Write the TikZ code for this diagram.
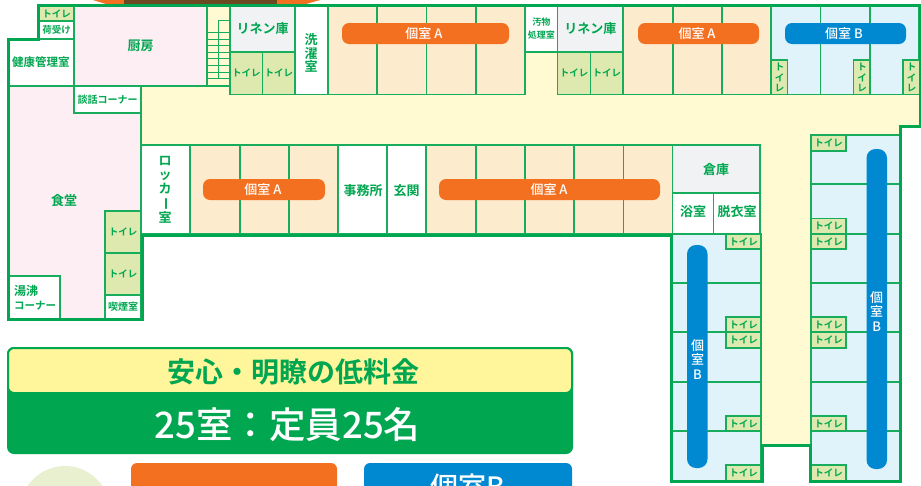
\documentclass[tikz,border=0pt]{standalone}
\usepackage{fontspec}
\setmainfont{Noto Sans CJK JP Medium}[BoldFont=Noto Sans CJK JP Bold]
\definecolor{gr}{HTML}{00A650}
\definecolor{ln}{HTML}{17AD5C}
\definecolor{cor}{HTML}{FFFAD2}
\definecolor{pk}{HTML}{FCEEF3}
\definecolor{rA}{HTML}{FDEBCD}
\definecolor{rB}{HTML}{E0F3FB}
\definecolor{wc}{HTML}{DDE9AE}
\definecolor{gy}{HTML}{F0F2F4}
\definecolor{ora}{HTML}{F47021}
\definecolor{blu}{HTML}{0088D0}
\definecolor{yel}{HTML}{FFF59B}
\definecolor{pale}{HTML}{E8F0D0}
\definecolor{roofb}{HTML}{6B4A22}
\newcommand{\sz}[2]{\bfseries\fontsize{#1}{#2}\selectfont}
\tikzset{
 lab/.style={text=gr,inner sep=0pt,align=center,font=\sz{13}{13.8}},
 wclab/.style={text=gr,inner sep=0pt,align=center,font=\sz{9.5}{10.5}},
 pilllab/.style={text=white,inner sep=0pt,align=center,font=\fontsize{13}{14.5}\selectfont},
 wall/.style={draw=ln,line width=1.2pt},
 thick wall/.style={draw=gr,line width=3pt,line join=miter},
 pill/.style={rounded corners=7pt,draw=none},
}
% \rmb{name}{x1}{y1}{x2}{y2}{fill}
\newcommand{\rmb}[6]{\path[wall,fill=#6] (#2,#3) rectangle (#4,#5) coordinate[pos=.5] (#1);}
\newcommand{\wch}[4]{\path[wall,fill=wc] (#2,#3) rectangle (#2+35,#3+#4) node[midway,wclab] (#1) {トイレ};}
\begin{document}
\begin{tikzpicture}[x=1pt,y=-1pt]
\useasboundingbox (0,0) rectangle (921,485);
\fill[white] (0,0) rectangle (921,485);
% roof
\fill[ora] (93,0) -- (125,0) -- (125,4) -- (106,4) -- cycle;
\fill[ora] (277,0) -- (320,0) -- (306,4) -- (277,4) -- cycle;
\fill[roofb] (124,0) rectangle (277,4);
% corridor
\fill[cor] (38,5) -- (920,5) -- (920,126) -- (900,126) -- (900,445) -- (671,445) -- (671,235) -- (142,235) -- (142,145) -- (8,145) -- (8,39) -- (38,39) -- cycle;
% upper-left
\rmb{a1}{39}{6}{74}{21}{wc}
\node[wclab] (wc1) at (a1) {トイレ};
\rmb{a2}{39}{21}{74}{39}{white}
\node[wclab] (niuke) at (a2) {荷受け};
% dining
\path[wall,fill=pk] (8,86) rectangle (141,319);
\rmb{a3}{74}{6}{207}{86}{pk}
\node[lab] (kitchen) at (a3) {厨房};
\rmb{a4}{8}{39}{74}{86}{white}
\node[lab,font=\sz{11.5}{12}] (kenko) at (a4) {健康管理室};
\rmb{a5}{74}{86}{141}{113}{white}
\node[lab,font=\sz{10}{12}] (danwa) at (a5) {談話コーナー};
\node[lab] (shokudo) at (64,201) {食堂};
\rmb{a6}{105}{211}{141}{253}{wc}
\node[wclab] (wc2) at (a6) {トイレ};
\rmb{a7}{105}{253}{141}{295}{wc}
\node[wclab] (wc3) at (a7) {トイレ};
\rmb{a8}{105}{295}{141}{319}{white}
\node[lab,font=\sz{10}{12}] (kitsuen) at (a8) {喫煙室};
\path[wall,fill=white] (8,276) rectangle (60,319);
\node[lab,align=left,font=\sz{12}{14}] (yuwakashi) at (35,297.5) {湯沸\\[-.5pt]{\sz{10.5}{12}コーナー}};
% stairs
\path[wall,draw=ln] (207,6) rectangle (230,86);
\foreach \yy in {32,39,45,52,58,65,72,78} \draw[wall,line width=1pt] (207,\yy) -- (230,\yy);
\draw[wall,line width=1pt] (218,78) -- (218,20) -- (230,20);
% top row
\rmb{b1}{230}{6}{295}{52}{gy}
\node[lab] (linen1) at (b1) {リネン庫};
\rmb{b2}{230}{52}{262.5}{94.5}{wc}
\node[wclab] (wc4) at (b2) {トイレ};
\rmb{b3}{262.5}{52}{295}{94.5}{wc}
\node[wclab] (wc5) at (b3) {トイレ};
\rmb{b4}{295}{6}{328}{94.5}{white}
\node[lab] (sentaku) at (311,53) {洗\\濯\\室};
\foreach \xa/\xb in {328/377,377/426.5,426.5/476,476/525,623/673,673/722,722/771} \path[wall,fill=rA] (\xa,6) rectangle (\xb,94.5);
\rmb{b5}{525}{6}{557.5}{52}{white}
\node[lab,font=\sz{9}{13}] (soiled) at (b5) {汚物\\処理室};
\rmb{b6}{557.5}{6}{623}{52}{gy}
\node[lab] (linen2) at (b6) {リネン庫};
\rmb{b7}{557.5}{52}{590.5}{94.5}{wc}
\node[wclab] (wc6) at (b7) {トイレ};
\rmb{b8}{590.5}{52}{623}{94.5}{wc}
\node[wclab] (wc7) at (b8) {トイレ};
\foreach \xa/\xb in {771/820.5,820.5/870,870/919} \path[wall,fill=rB] (\xa,6) rectangle (\xb,94.5);
\foreach \xa/\nm in {771/c1,853.5/c2,903/c3} {
 \path[wall,fill=wc] (\xa,60) rectangle (\xa+16.5,94.5);
 \node[wclab,font=\sz{9.5}{10.5}] (\nm) at (\xa+8.5,77.5) {ト\\イ\\レ};
}
\path[fill=ora,pill] (342,23) rectangle (509,44);
\node[pilllab] (pA1) at (424,34) {個室 A};
\path[fill=ora,pill] (638,23) rectangle (759,44);
\node[pilllab] (pA2) at (697,34) {個室 A};
\path[fill=blu,pill] (785,23) rectangle (906,44);
\node[pilllab] (pB1) at (844,34) {個室 B};
% second row
\rmb{d1}{141}{145}{190}{234}{white}
\node[lab] (locker) at (165,190) {ロ\\ッ\\カ\\\rotatebox[origin=c]{-90}{ー}\\室};
\foreach \xa/\xb in {190/240,240/289,289/338,426/476,476/525,525/574,574/623.5,623.5/672.5} \path[wall,fill=rA] (\xa,145) rectangle (\xb,234);
\rmb{d2}{338}{145}{387}{234}{white}
\node[lab] (office) at (363,190.5) {事務所};
\rmb{d3}{387}{145}{426}{234}{white}
\node[lab] (entrance) at (406.5,190.5) {玄関};
\path[fill=ora,pill] (203,179) rectangle (325,200);
\node[pilllab] (pA3) at (263,190) {個室 A};
\path[fill=ora,pill] (439,179) rectangle (660,200);
\node[pilllab] (pA4) at (549,190) {個室 A};
\rmb{d4}{672.5}{145}{760}{193}{gy}
\node[lab] (soko) at (716,170) {倉庫};
\rmb{d5}{672.5}{193}{713.5}{234}{white}
\node[lab] (bath) at (693,212) {浴室};
\rmb{d6}{713.5}{193}{760}{234}{white}
\node[lab] (datsui) at (737,212) {脱衣室};
% wings
\foreach \ya/\yb in {234/283,283/332,332/382,382/431,431/481} {
 \path[wall,fill=rB] (671,\ya) rectangle (761,\yb);
 \path[wall,fill=rB] (811,\ya) rectangle (900,\yb);
}
\path[wall,fill=rB] (811,135) rectangle (900,184);
\path[wall,fill=rB] (811,184) rectangle (900,234);
\foreach \ya/\hh/\nm in {234/15/e1,317/15/e2,332/16/e3,416/15/e4,465/16/e5} \wch{\nm}{726}{\ya}{\hh};
\foreach \ya/\hh/\nm in {135/16/f1,218.5/15.5/f2,234/15/f3,317/15/f4,332/16/f5,416/15/f6,465/16/f7} \wch{\nm}{811}{\ya}{\hh};
\path[fill=blu,rounded corners=9pt] (687,245) rectangle (707.5,468);
\node[pilllab] (pB2) at (697.5,359.5) {個\\室\\B};
\path[fill=blu,rounded corners=9pt] (866.5,149) rectangle (887,469);
\node[pilllab] (pB3) at (876.7,311.5) {個\\室\\B};
% outer walls
\draw[thick wall] (38,5.5) -- (920,5.5) -- (920,126) -- (900.5,126) -- (900.5,481.5) -- (810,481.5) -- (810,445) -- (762,445) -- (762,481.5) -- (671,481.5) -- (671,235) -- (142,235) -- (142,319) -- (8,319) -- (8,39) -- (38,39) -- cycle;
% info panel
\path[fill=gr,rounded corners=7pt] (7,347) rectangle (573,454);
\path[fill=yel,draw=gr,line width=2pt,rounded corners=6pt] (8,348) -- (572,348) -- (572,393) -- (8,393) -- cycle;
\fill[gr] (7,392) rectangle (573,400);
\node[text=gr,inner sep=0pt,font=\sz{28}{30}] (price) at (293,372) {安心・明瞭の低料金};
\node[text=white,inner sep=0pt,font=\fontsize{36.5}{38}\selectfont] (cap) at (287.5,425) {25室：定員25名};
% bottom
\begin{scope}
\clip (0,0) rectangle (921,485);
\fill[pale] (65,511) circle (45);
\path[fill=ora,rounded corners=6pt] (131,463) rectangle (337,510);
\path[fill=blu,rounded corners=6pt] (364,463) rectangle (572,510);
\node[text=white,inner sep=0pt,font=\fontsize{28}{30}\selectfont] (cardB) at (468,487) {個室B};
\end{scope}
\end{tikzpicture}
\end{document}
